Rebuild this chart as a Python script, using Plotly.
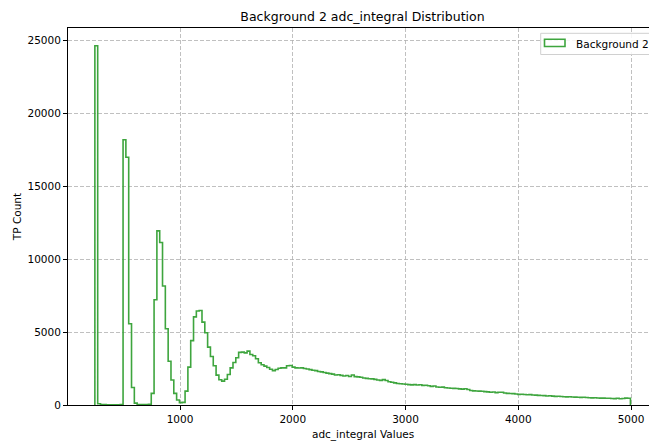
import numpy as np
import plotly.graph_objects as go

# ---- data ----
bin_start = 245.0
bin_width = 25.0
counts = [
    24650, 90, 30, 25, 20, 20, 20, 20, 20, 25,            # 0-9
    18200, 17000, 5580, 1200, 130, 30, 25, 25, 30, 40,    # 10-19
    800, 7220, 11950, 11150, 8170, 5230, 3000, 1720, 800, 340,  # 20-29
    160, 180, 950, 2600, 4420, 6050, 6450, 6490, 5690, 4960,    # 30-39
    3970, 3330, 2690, 2050, 1730, 1640, 1770, 2090, 2550, 2920, # 40-49
    3240, 3610, 3630, 3580, 3700, 3470, 3380, 3170, 2900, 2760, # 50-59
    2670, 2570, 2450, 2360, 2440, 2520, 2550, 2550, 2690, 2710, # 60-69
    2600, 2550, 2540, 2550, 2500, 2470, 2430, 2380, 2360, 2300, # 70-79
    2270, 2230, 2190, 2150, 2120, 2060, 2080, 2030, 1990, 2020, # 80-89
    1960, 2060, 1950, 1930, 1900, 1850, 1830, 1800, 1790, 1760, # 90-99
    1720, 1690, 1740, 1680, 1600, 1560, 1520, 1480, 1460, 1440, # 100-109
    1420, 1400, 1380, 1400, 1370, 1390, 1350, 1360, 1320, 1280, # 110-119
    1300, 1240, 1220, 1230, 1180, 1170, 1150, 1140, 1130, 1110, # 120-129
    1090, 1120, 1060, 1000, 970, 960, 950, 940, 920, 900,       # 130-139
    880, 890, 850, 870, 880, 820, 800, 790, 780, 760,           # 140-149
    730, 740, 720, 700, 710, 690, 680, 660, 650, 640,           # 150-159
    620, 630, 610, 590, 600, 580, 570, 560, 570, 550,           # 160-169
    540, 530, 520, 530, 510, 500, 490, 500, 480, 470,           # 170-179
    470, 460, 460, 450, 440, 460, 430, 450, 470, 460,           # 180-189
]
series_name = "Background 2"
x_ticks = [1000, 2000, 3000, 4000, 5000]
y_ticks = [0, 5000, 10000, 15000, 20000, 25000]

edges = bin_start + bin_width * np.arange(len(counts) + 1)
xs = [edges[0]] + list(edges)
ys = [0] + counts + [0]

LINE = "#3ea53e"
GRID = "rgba(176,176,176,0.8)"
FONT = "DejaVu Sans"
FS = 10.5
W, H = 649, 444
L, T, B = 68, 28, 39

fig = go.Figure()
fig.add_trace(go.Scatter(
    x=xs, y=ys, mode="lines", line=dict(color=LINE, width=1.6, shape="hv"),
    name=series_name, showlegend=False, hoverinfo="skip",
))

fig.update_layout(
    width=W, height=H,
    margin=dict(l=L, r=0, t=T, b=B, pad=0),
    paper_bgcolor="white", plot_bgcolor="white",
    font=dict(family=FONT, size=FS, color="black"),
    title=dict(text="Background 2 adc_integral Distribution",
               x=362.5 / W, xanchor="center", xref="container",
               y=1 - 17 / H, yanchor="middle", yref="container",
               font=dict(size=12.5, family=FONT, color="black")),
    showlegend=False,
)
fig.update_xaxes(
    range=[(L - 67.25) / 0.11275, (W - 67.25) / 0.11275],
    tickvals=x_ticks, ticktext=[str(v) for v in x_ticks],
    showgrid=True, gridcolor=GRID, griddash="4px,2px", gridwidth=0.8,
    showline=True, linecolor="black", linewidth=1, mirror=True,
    ticks="outside", ticklen=4, tickwidth=0.8, tickcolor="black",
    zeroline=False, tickfont=dict(size=FS),
)
fig.update_yaxes(
    range=[0, (404.5 - T) / 0.014552],
    tickvals=y_ticks, ticktext=[str(v) for v in y_ticks],
    showgrid=True, gridcolor=GRID, griddash="4px,2px", gridwidth=0.8,
    showline=True, linecolor="black", linewidth=1, mirror=False,
    ticks="outside", ticklen=4, tickwidth=0.8, tickcolor="black",
    zeroline=False, tickfont=dict(size=FS),
    title=dict(text="TP Count", font=dict(size=FS, family=FONT), standoff=3),
)

def px_x(p):
    return (p - L) / (W - L)

def px_y(p):
    return 1 - (p - T) / (H - T - B)

# x-axis title, centred on the (wider, cropped) reference axes
fig.add_annotation(xref="paper", yref="paper", x=px_x(362.5), y=px_y(434),
                   xanchor="center", yanchor="middle", showarrow=False,
                   text="adc_integral Values", font=dict(size=FS, family=FONT, color="black"))

# legend box (matplotlib style, cut by the right edge as in the reference)
fig.add_shape(type="rect", xref="paper", yref="paper",
              x0=px_x(540.7), x1=px_x(700), y0=px_y(54.5), y1=px_y(33.3),
              line=dict(color="#d0d0d0", width=1), fillcolor="rgba(255,255,255,0.85)",
              layer="above")
fig.add_shape(type="rect", xref="paper", yref="paper",
              x0=px_x(544.5), x1=px_x(565), y0=px_y(46.5), y1=px_y(39.3),
              line=dict(color=LINE, width=1.6), fillcolor="rgba(0,0,0,0)",
              layer="above")
fig.add_annotation(xref="paper", yref="paper", x=px_x(573.5), y=px_y(43.5),
                   xanchor="left", yanchor="middle", showarrow=False,
                   text=series_name, font=dict(size=FS, family=FONT, color="black"))

fig.write_html(
    "out.html",
    config={"displayModeBar": False},
    post_script="document.body.style.margin='0';document.body.style.overflow='hidden';",
)
